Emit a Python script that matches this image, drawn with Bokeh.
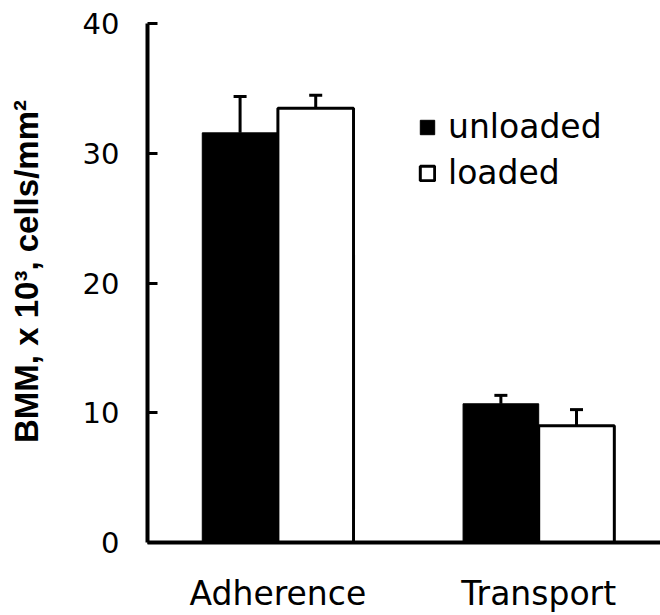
import numpy as np
from bokeh.plotting import figure
from bokeh.models import (Range1d, FixedTicker, Whisker, TeeHead,
                          ColumnDataSource, Legend, LegendItem)
from bokeh.embed import file_html
from bokeh.resources import INLINE

# ---- data ----
categories = ["Adherence", "Transport"]
series = ["unloaded", "loaded"]
unloaded = [31.6, 10.7]
unloaded_err = [2.8, 0.65]
loaded = [33.5, 9.0]
loaded_err = [1.0, 1.25]
y_ticks = [0, 10, 20, 30, 40]
y_label = "BMM, x 10³, cells/mm²"

# ---- layout (pixel geometry of the canvas) ----
W, H = 660, 615
frame_left, frame_top, border_bottom = 147, 0, 72
frame_bottom = H - border_bottom
y40_px = 23.5
ppu_y = (frame_bottom - y40_px) / 40.0
ppu_x = 260.8
x_start = 0.5

p = figure(width=W, height=H, output_backend="svg", toolbar_location=None,
           x_range=Range1d(x_start, x_start + (W - frame_left) / ppu_x),
           y_range=Range1d(0, 40 + (y40_px - frame_top) / ppu_y),
           min_border_left=frame_left, min_border_right=0,
           min_border_top=frame_top, min_border_bottom=border_bottom)
p.outline_line_color = None
p.grid.grid_line_color = None
p.background_fill_color = "white"
p.border_fill_color = "white"

xs = np.arange(1, len(categories) + 1, dtype=float)
off = 0.145
bw = 0.29

src_u = ColumnDataSource(dict(x=xs - off, top=unloaded,
                              upper=np.array(unloaded) + np.array(unloaded_err)))
src_l = ColumnDataSource(dict(x=xs + off, top=loaded,
                              upper=np.array(loaded) + np.array(loaded_err)))

bar_u = p.vbar(x="x", top="top", bottom=0, width=bw, source=src_u,
               fill_color="black", line_color="black", line_width=1)
bar_l = p.vbar(x="x", top="top", bottom=0, width=bw, source=src_l,
               fill_color="white", line_color="black", line_width=3)

for src in (src_u, src_l):
    w = Whisker(base="x", lower="top", upper="upper", source=src,
                upper_head=TeeHead(size=13, line_width=3, line_color="black"),
                lower_head=None, line_width=3, line_color="black", level="glyph")
    p.add_layout(w)

# x axis: category names under each group, no tick marks
xa = p.xaxis[0]
xa.ticker = FixedTicker(ticks=list(xs))
xa.major_label_overrides = {float(x): c for x, c in zip(xs, categories)}
xa.axis_line_width = 4
xa.axis_line_color = "black"
xa.major_tick_line_color = None
xa.major_tick_in = 0
xa.major_tick_out = 0
xa.minor_tick_line_color = None
xa.major_label_text_font = "DejaVu Sans"
xa.major_label_text_font_size = "33px"
xa.major_label_text_color = "black"
xa.major_label_standoff = 31

# y axis
ya = p.yaxis[0]
ya.ticker = FixedTicker(ticks=y_ticks)
ya.bounds = (y_ticks[0], y_ticks[-1])
ya.axis_line_width = 4
ya.axis_line_color = "black"
ya.major_tick_in = 10
ya.major_tick_out = 0
ya.major_tick_line_width = 3
ya.major_tick_line_color = "black"
ya.minor_tick_line_color = None
ya.major_label_text_font = "DejaVu Sans"
ya.major_label_text_font_size = "29px"
ya.major_label_text_color = "black"
ya.major_label_standoff = 28
ya.axis_label = y_label
ya.axis_label_text_font = "Liberation Sans"
ya.axis_label_text_font_style = "bold"
ya.axis_label_text_font_size = "33px"
ya.axis_label_text_color = "black"
ya.axis_label_standoff = 35

legend = Legend(items=[LegendItem(label=series[0], renderers=[bar_u]),
                       LegendItem(label=series[1], renderers=[bar_l])],
                location=(271, 350), orientation="vertical",
                label_text_font="DejaVu Sans", label_text_font_size="33px",
                label_text_color="black", glyph_width=18, glyph_height=18,
                label_standoff=12, spacing=7, padding=0, margin=0,
                border_line_color=None, background_fill_alpha=0)
p.add_layout(legend)

open("out.html", "w").write(file_html(p, INLINE))
